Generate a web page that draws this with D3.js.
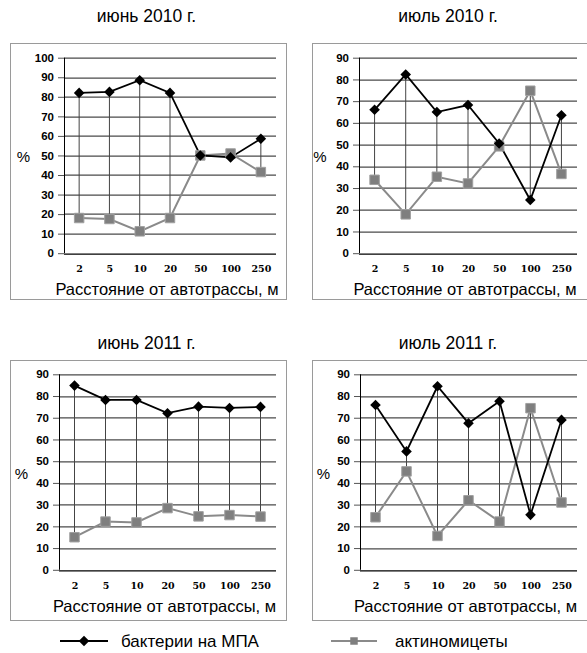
<!DOCTYPE html>
<html>
<head>
<meta charset="utf-8">
<script src="https://cdn.jsdelivr.net/npm/d3@7"></script>
<style>
  body { margin: 0; background: #fff; }
  svg { display: block; font-family: "Liberation Sans", Arial, sans-serif; }
</style>
</head>
<body>
<svg width="587" height="653"></svg>
<script>
// DATA
var distances = ["2", "5", "10", "20", "50", "100", "250"];
var titles = ["июнь 2010 г.", "июль 2010 г.", "июнь 2011 г.", "июль 2011 г."];
var yMaxes = [100, 90, 90, 90];
var bacteria = [
  [82, 82.5, 88.5, 82, 50, 49, 58.5],
  [66, 82.3, 65, 68.2, 50.5, 24.5, 63.5],
  [84.8, 78.2, 78.2, 72.1, 75.1, 74.5, 75],
  [75.9, 54.5, 84.5, 67.5, 77.6, 25.3, 69]
];
var actino = [
  [18, 17.5, 11.2, 18, 50, 51, 41.5],
  [33.8, 17.9, 35.2, 32.1, 49.2, 74.8, 36.5],
  [15, 22.2, 21.8, 28.4, 24.6, 25.2, 24.5],
  [24.2, 45.3, 15.6, 32, 22.2, 74.4, 31]
];
var legendLabels = ["бактерии на МПА", "актиномицеты"];

// layout of the four panels
var panels = [
  { bx: 10, by: 43, bw: 277, bh: 257, left: 54, axisTop: 14.7, titleY: 22, pctX: 13.5 },
  { bx: 312, by: 43, bw: 276, bh: 257, left: 47, axisTop: 14.7, titleY: 22, pctX: 8 },
  { bx: 10, by: 360, bw: 277, bh: 261, left: 49, axisTop: 14.3, titleY: 349, pctX: 11.5 },
  { bx: 312, by: 360, bw: 276, bh: 261, left: 48, axisTop: 14.3, titleY: 349, pctX: 11.5 }
];
var plotH = 195.5, plotRight = 11;

var svg = d3.select("svg");
var diamond = d3.symbol().type(d3.symbolSquare).size(56);
var square = d3.symbol().type(d3.symbolSquare).size(90);

panels.forEach(function (p, i) {
  svg.append("text")
    .attr("x", p.bx + p.bw / 2 - 2)
    .attr("y", p.titleY)
    .attr("text-anchor", "middle")
    .attr("font-size", 17.5)
    .text(titles[i]);

  svg.append("rect")
    .attr("x", p.bx + 0.5).attr("y", p.by + 0.5)
    .attr("width", p.bw - 1).attr("height", p.bh - 1)
    .attr("fill", "none").attr("stroke", "#9a9a9a");

  var g = svg.append("g")
    .attr("transform", "translate(" + (p.bx + p.left) + "," + (p.by + p.axisTop) + ")");
  var w = p.bw - p.left - plotRight;

  var x = d3.scalePoint().domain(distances).range([0, w]).padding(0.5);
  var y = d3.scaleLinear().domain([0, yMaxes[i]]).range([plotH, 0]);

  // grid
  g.selectAll(".grid").data(y.ticks(yMaxes[i] / 10))
    .enter().append("line")
    .attr("x1", 0).attr("x2", w)
    .attr("y1", function (d) { return Math.round(y(d)) + 0.5; })
    .attr("y2", function (d) { return Math.round(y(d)) + 0.5; })
    .attr("stroke", function (d) { return d === 0 ? "#000" : "#4a4a4a"; })
    .attr("stroke-width", 1.2);

  var ya = g.append("g")
    .call(d3.axisLeft(y).ticks(yMaxes[i] / 10).tickSize(6).tickPadding(4));
  ya.select(".domain").attr("stroke", "#000").attr("d", "M0.5," + plotH + "V0");
  ya.selectAll(".tick line").attr("stroke", "#555");
  ya.selectAll("text")
    .attr("font-family", "'Liberation Sans', Arial, sans-serif")
    .attr("font-weight", "bold").attr("font-size", 11.5).attr("fill", "#000");

  var xa = g.append("g")
    .attr("transform", "translate(0," + plotH + ")")
    .call(d3.axisBottom(x).tickSize(0).tickPadding(12));
  xa.select(".domain").remove();
  xa.selectAll("text")
    .attr("font-family", "'DejaVu Serif', serif")
    .attr("font-weight", "bold").attr("font-size", 9.5).attr("fill", "#000");

  g.append("text")
    .attr("x", w / 2 - 3)
    .attr("y", plotH + 42)
    .attr("text-anchor", "middle")
    .attr("font-size", 16.5)
    .text("Расстояние от автотрассы, м");

  g.append("text")
    .attr("x", -p.left + p.pctX)
    .attr("y", plotH / 2 + 7)
    .attr("text-anchor", "middle")
    .attr("font-size", 15)
    .text("%");

  // high-low lines
  g.selectAll(".hl").data(distances)
    .enter().append("line")
    .attr("x1", function (d) { return x(d); })
    .attr("x2", function (d) { return x(d); })
    .attr("y1", function (d, j) { return y(bacteria[i][j]); })
    .attr("y2", function (d, j) { return y(actino[i][j]); })
    .attr("stroke", "#444").attr("stroke-width", 1);

  var line = d3.line()
    .x(function (d, j) { return x(distances[j]); })
    .y(function (d) { return y(d); });

  g.append("path").datum(actino[i])
    .attr("d", line).attr("fill", "none")
    .attr("stroke", "#8a8a8a").attr("stroke-width", 2);
  g.append("path").datum(bacteria[i])
    .attr("d", line).attr("fill", "none")
    .attr("stroke", "#000").attr("stroke-width", 1.8);

  g.selectAll(".sq").data(actino[i])
    .enter().append("path")
    .attr("d", square)
    .attr("transform", function (d, j) { return "translate(" + x(distances[j]) + "," + y(d) + ")"; })
    .attr("fill", "#7f7f7f").attr("stroke", "#a0a0a0").attr("stroke-width", 1);

  g.selectAll(".di").data(bacteria[i])
    .enter().append("path")
    .attr("d", diamond)
    .attr("transform", function (d, j) { return "translate(" + x(distances[j]) + "," + y(d) + ") rotate(45)"; })
    .attr("fill", "#000");
});

// legend
var lg = svg.append("g").attr("transform", "translate(0,641)");
lg.append("line").attr("x1", 60).attr("x2", 108).attr("y1", 0).attr("y2", 0)
  .attr("stroke", "#000").attr("stroke-width", 1.8);
lg.append("path").attr("d", diamond).attr("transform", "translate(84,0) rotate(45)").attr("fill", "#000");
lg.append("text").attr("x", 121).attr("y", 6).attr("font-size", 17).text(legendLabels[0]);
lg.append("line").attr("x1", 331).attr("x2", 377).attr("y1", 0).attr("y2", 0)
  .attr("stroke", "#8a8a8a").attr("stroke-width", 2);
lg.append("path").attr("d", d3.symbol().type(d3.symbolSquare).size(56))
  .attr("transform", "translate(354,0)").attr("fill", "#7f7f7f");
lg.append("text").attr("x", 395).attr("y", 6).attr("font-size", 17).text(legendLabels[1]);
</script>
</body>
</html>
